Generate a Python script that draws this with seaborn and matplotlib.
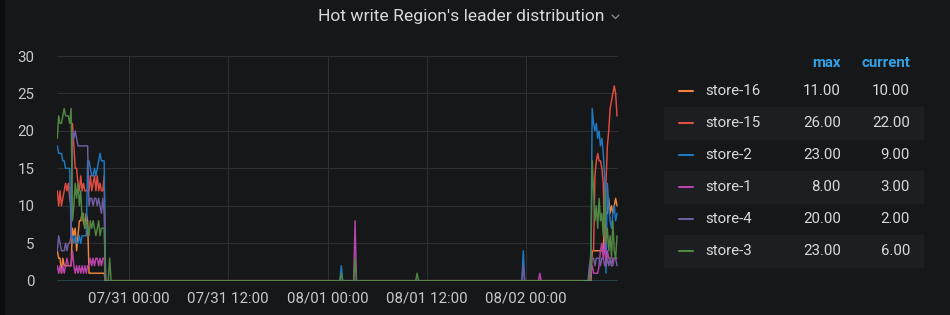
import numpy as np
import pandas as pd
import matplotlib
matplotlib.use("Agg")
import matplotlib.pyplot as plt
import matplotlib.dates as mdates
from matplotlib.lines import Line2D
from matplotlib.patches import Rectangle
import seaborn as sns

# ---------------- data ----------------
TITLE = "Hot write Region's leader distribution"
SERIES = ["store-16", "store-15", "store-2", "store-1", "store-4", "store-3"]
COLORS = ["#EF843C", "#E24D42", "#1F78C1", "#BA43A9", "#705DA0", "#508642"]
HIDDEN = "store-hidden"          # all-zero series, not listed in the legend
HIDDEN_COLOR = "#6ED0E0"

TIME_START = "2020-07-30 15:20"
TIME_END = "2020-08-02 11:00"
VIEW_END = "2020-08-02 11:05"
STEP = "10min"

X_TICKS = ["2020-07-31 00:00", "2020-07-31 12:00", "2020-08-01 00:00",
           "2020-08-01 12:00", "2020-08-02 00:00"]
Y_TICKS = [0, 5, 10, 15, 20, 25, 30]

# first burst, 10-minute samples starting at LEFT_START
LEFT_START = "2020-07-30 15:20"
left_store16 = [4, 3, 3, 1, 3, 2, 2, 2, 2, 2, 2, 7, 6, 7, 4, 6, 8, 8, 9, 8, 7, 9, 8,
                1, 1, 1, 1, 1, 1, 1, 1, 1, 1, 1, 1, 0, 0, 0, 0, 0]
left_store15 = [12, 10, 12, 10, 11, 12, 13, 12, 13, 11, 10, 21, 18, 15, 15, 13, 12, 14, 12, 13, 12, 12, 12,
                12, 14, 12, 13, 14, 12, 14, 12, 13, 12, 12, 14, 0, 0, 0, 0, 0]
left_store2 = [18, 17, 17, 17, 16, 16, 15, 15, 15, 15, 6, 6, 5, 6, 5, 5, 6, 5, 6, 6, 6, 6,
               16, 16, 15, 14, 14, 15, 14, 15, 16, 17, 16, 16, 16, 0, 0, 0, 0, 0]
left_store1 = [2, 1, 2, 1, 2, 1, 2, 3, 2, 2, 2, 4, 2, 1, 2, 1, 2, 1, 2, 1, 2, 1, 2,
               2, 3, 2, 3, 2, 3, 3, 2, 3, 2, 3, 3, 0, 0, 0, 0, 0]
left_store4 = [4, 6, 5, 4, 4, 4, 5, 4, 5, 5, 6, 20, 19, 20, 19, 18, 18, 18, 18, 18, 18, 18, 18,
               10, 11, 11, 10, 11, 11, 10, 11, 10, 9, 11, 9, 0, 0, 0, 0, 0]
left_store3 = [19, 22, 21, 21, 22, 23, 22, 22, 22, 21, 23, 8, 10, 13, 11, 13, 10, 12, 8, 9, 7, 8,
               7, 6, 8, 7, 8, 7, 6, 7, 8, 6, 7, 7, 7, 0, 0, 0, 3, 0]

# second burst, 10-minute samples ending at TIME_END
RIGHT_START = "2020-08-02 07:40"
right_store16 = [0, 0, 4, 4, 4, 4, 4, 4, 4, 4, 4, 8, 9, 9, 11, 9, 10, 9, 10, 11, 10]
right_store15 = [0, 4, 4, 4, 14, 16, 17, 16, 16, 15, 13, 5, 13, 18, 20, 23, 24, 25, 26, 25, 22]
right_store2 = [0, 1, 23, 21, 20, 21, 19, 20, 18, 19, 17, 14, 1, 13, 10, 8, 7, 9, 10, 8, 9]
right_store1 = [0, 1, 2, 1, 1, 1, 1, 2, 4, 5, 3, 5, 2, 4, 3, 3, 2, 3, 3, 3, 3]
right_store4 = [2, 3, 3, 3, 2, 3, 3, 3, 2, 3, 3, 2, 2, 3, 2, 3, 2, 2, 3, 3, 2]
right_store3 = [0, 2, 16, 12, 8, 10, 7, 11, 8, 9, 6, 12, 5, 7, 4, 6, 3, 8, 4, 3, 6]

# isolated single-sample spikes (all other samples are 0)
spike_times = ["2020-08-01 01:40", "2020-08-01 01:40", "2020-08-01 03:20", "2020-08-01 03:20",
               "2020-08-01 10:50", "2020-08-01 23:40", "2020-08-01 23:40", "2020-08-02 01:40"]
spike_series = ["store-2", "store-3", "store-1", "store-3",
                "store-3", "store-2", "store-4", "store-1"]
spike_values = [2, 1, 8, 3, 1, 4, 2, 1]

# windows where the hidden all-zero series reports data
hidden_windows = [("2020-07-30 15:20", "2020-07-30 21:10"),
                  ("2020-08-02 06:50", "2020-08-02 11:00")]

left_bursts = [left_store16, left_store15, left_store2, left_store1, left_store4, left_store3]
right_bursts = [right_store16, right_store15, right_store2, right_store1, right_store4, right_store3]

# ---------------- build table ----------------
times = pd.date_range(TIME_START, TIME_END, freq=STEP)
wide = pd.DataFrame(0.0, index=times, columns=SERIES)
for s, lv, rv in zip(SERIES, left_bursts, right_bursts):
    li = pd.date_range(LEFT_START, periods=len(lv), freq=STEP)
    ri = pd.date_range(RIGHT_START, periods=len(rv), freq=STEP)
    wide.loc[li, s] = lv
    wide.loc[ri, s] = rv
for t, s, v in zip(spike_times, spike_series, spike_values):
    wide.loc[pd.Timestamp(t), s] = v

long = wide.reset_index(names="time").melt(id_vars="time", var_name="store", value_name="value")
long["segment"] = 0
parts = [long]
for k, (a, b) in enumerate(hidden_windows):
    hi = pd.date_range(a, b, freq=STEP)
    parts.append(pd.DataFrame({"time": hi, "store": HIDDEN, "value": 0.0, "segment": k}))
long = pd.concat(parts, ignore_index=True)

# ---------------- style ----------------
BG = "#161719"
ROWBG = "#1d1e21"
GRID = "#2f3034"
TEXT = "#d8d9da"
TICK = "#c7c8ca"
HEAD = "#33A2E5"
W, H = 950, 315

sns.set_theme(style="dark")
plt.rcParams["font.family"] = ["Roboto", "DejaVu Sans"]

def fx(px):
    return px / W

def fy(py):
    return 1 - py / H

fig = plt.figure(figsize=(9.5, 3.15), dpi=100, facecolor=BG)
fig.patches.append(Rectangle((0, 0), fx(4), 1, transform=fig.transFigure,
                             color="#0b0c0e", zorder=0))

ax = fig.add_axes([fx(57.3), fy(280.7), fx(617.7) - fx(57.3), fy(56) - fy(280.7)])
ax.set_facecolor(BG)

palette = dict(zip(SERIES, COLORS))
palette[HIDDEN] = HIDDEN_COLOR
sns.lineplot(data=long, x="time", y="value", hue="store", units="segment",
             estimator=None, hue_order=SERIES + [HIDDEN], palette=palette,
             linewidth=1.05, legend=False, ax=ax, sort=True)

ax.set_xlim(pd.Timestamp(TIME_START), pd.Timestamp(VIEW_END))
ax.set_ylim(0, 30)
ax.set_yticks(Y_TICKS)
ax.set_xticks([pd.Timestamp(t) for t in X_TICKS])
ax.xaxis.set_major_formatter(mdates.DateFormatter("%m/%d %H:%M"))
ax.set_xlabel("")
ax.set_ylabel("")
for sp in ax.spines.values():
    sp.set_visible(False)
ax.grid(True, color=GRID, linewidth=0.75)
ax.set_axisbelow(True)
ax.tick_params(axis="both", length=0, colors=TICK, labelsize=10.8)
ax.tick_params(axis="y", pad=16.5)
ax.tick_params(axis="x", pad=7.5)

# title + chevron
fig.text(fx(461.5), fy(17), TITLE, ha="center", va="center", fontsize=12.6, color=TEXT)
fig.lines.append(Line2D([fx(612), fx(615.5), fx(619)], [fy(15), fy(18.5), fy(15)],
                        transform=fig.transFigure, color="#8e8f92", linewidth=0.9))

# legend table
fig.text(fx(841), fy(63), "max", ha="right", va="center", fontsize=10.8,
         fontweight="bold", color=HEAD)
fig.text(fx(910), fy(63), "current", ha="right", va="center", fontsize=10.8,
         fontweight="bold", color=HEAD)
for i, (s, c) in enumerate(zip(SERIES, COLORS)):
    yc = 91 + 32 * i
    if i % 2 == 1:
        fig.patches.append(Rectangle((fx(664), fy(yc + 16)), fx(923) - fx(664), 32 / H,
                                     transform=fig.transFigure, color=ROWBG, zorder=0))
    fig.lines.append(Line2D([fx(679), fx(693)], [fy(yc), fy(yc)],
                            transform=fig.transFigure, color=c, linewidth=1.5))
    fig.text(fx(705), fy(yc), s, ha="left", va="center", fontsize=10.8, color=TEXT)
    fig.text(fx(841), fy(yc), f"{wide[s].max():.2f}", ha="right", va="center",
             fontsize=10.8, color=TEXT)
    fig.text(fx(910), fy(yc), f"{wide[s].iloc[-1]:.2f}", ha="right", va="center",
             fontsize=10.8, color=TEXT)

fig.savefig("out.png", dpi=100, facecolor=BG)
